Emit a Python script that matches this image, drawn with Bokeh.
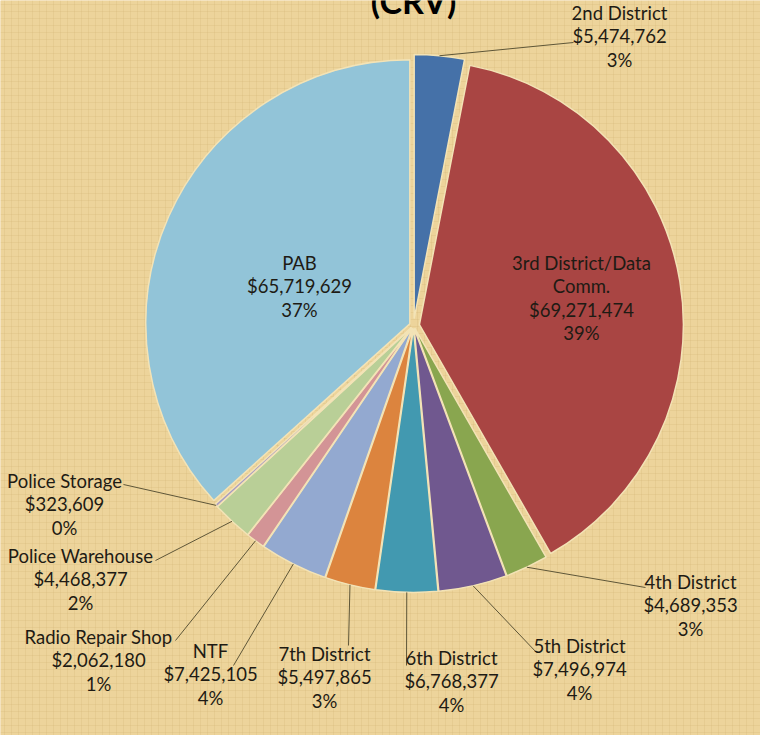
import math
from bokeh.plotting import figure
from bokeh.models import Range1d, ColumnDataSource
from bokeh.core.properties import value
from bokeh.embed import file_html
from bokeh.resources import INLINE

# ---- data ----
names = ["2nd District", "3rd District/Data Comm.", "4th District", "5th District",
         "6th District", "7th District", "NTF", "Radio Repair Shop",
         "Police Warehouse", "Police Storage", "PAB"]
amounts = [5474762, 69271474, 4689353, 7496974, 6768377, 5497865, 7425105,
           2062180, 4468377, 323609, 65719629]
colors = ["#4571A8", "#A94543", "#89A64F", "#70588F", "#4299B0", "#DC843E",
          "#93A9D0", "#D39496", "#B9CF97", "#A89BC2", "#92C4D8"]
title_text = "(CRV)"

# ---- layout (screen pixels of the page) ----
W, H = 760, 735
CX, CY, R = 413, 325, 264
explode = [7, 6, 3, 3, 3, 3, 3, 3, 3, 3, 4]
label_pos = [(619, 12), (581, 262), (690, 581), (579, 645), (451, 657),
             (324, 653), (210, 650), (98, 636), (80, 555), (64, 480), (299, 262)]
leader_end = [(573, 42), None, (645, 587), (536, 652), (406, 665), (348, 645),
              (233, 665), (175, 640), (155, 560), (123, 484), None]
wrap = {"3rd District/Data Comm.": ["3rd District/Data", "Comm."]}
LINE_H = 23.5
FONT = "Lato"
BG = "#EDD49B"

total = float(sum(amounts))

p = figure(width=W, height=H, output_backend="svg", toolbar_location=None,
           x_range=Range1d(0, W), y_range=Range1d(-H, 0),
           min_border=0, background_fill_color=BG, border_fill_color=BG)
p.axis.visible = False
p.grid.visible = False
p.outline_line_color = None

# faint woven texture
p.rect(x=[W / 2], y=[-H / 2], width=W, height=H, fill_color=BG,
       line_color=None, hatch_pattern="+", hatch_color="#D4B77A",
       hatch_alpha=0.35, hatch_scale=7, hatch_weight=0.8)

cum = 0.0
wx, wy, sa, ea, mids = [], [], [], [], []
for a in amounts:
    a0 = cum / total * 2 * math.pi
    cum += a
    a1 = cum / total * 2 * math.pi
    mids.append((a0 + a1) / 2)
    sa.append(math.pi / 2 - a0)
    ea.append(math.pi / 2 - a1)

for i, m in enumerate(mids):
    wx.append(CX + explode[i] * math.sin(m))
    wy.append(-(CY - explode[i] * math.cos(m)))

src = ColumnDataSource(dict(x=wx, y=wy, sa=sa, ea=ea, c=colors))
p.wedge(x="x", y="y", radius=R, start_angle="sa", end_angle="ea",
        direction="clock", fill_color="c", line_color="#F3E3B6", line_width=1.5,
        source=src)

# leader lines
lx, ly = [], []
for i, m in enumerate(mids):
    if leader_end[i] is None:
        continue
    sx = wx[i] + R * math.sin(m)
    sy = wy[i] + R * math.cos(m)
    ex, ey = leader_end[i]
    lx.append([sx, ex])
    ly.append([sy, -ey])
p.multi_line(xs=lx, ys=ly, line_color="#5E5638", line_width=1)

# labels
tx, ty, tt = [], [], []
for i, n in enumerate(names):
    lines = wrap.get(n, [n]) + ["${:,}".format(amounts[i]),
                                "{:.0f}%".format(round(amounts[i] / total * 100))]
    x0, y0 = label_pos[i]
    for k, t in enumerate(lines):
        tx.append(x0)
        ty.append(-(y0 + k * LINE_H))
        tt.append(t)
p.text(x=tx, y=ty, text=tt, text_font=value(FONT), text_font_size="18.5px",
       text_color="#1E1B14", text_align="center", text_baseline="middle")

# title (cut off at top like the reference)
p.text(x=[CX], y=[-20], text=[title_text], text_font=value(FONT),
       text_font_size="34px", text_font_style="bold", text_color="#000000",
       text_align="center", text_baseline="bottom")

open("out.html", "w").write(file_html(p, INLINE))
